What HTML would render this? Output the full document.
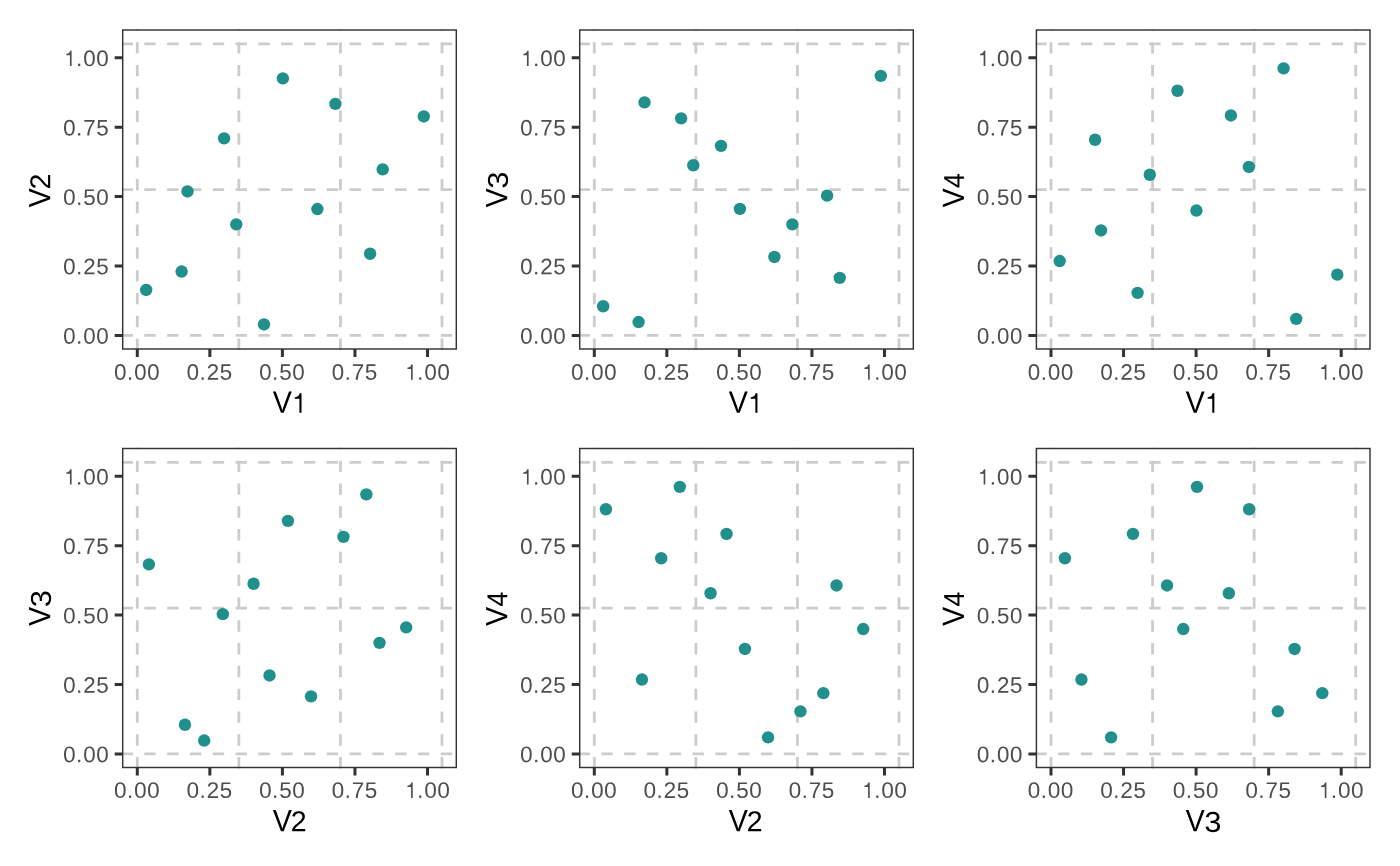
<!DOCTYPE html><html><head><meta charset="utf-8"><title>plot</title><style>html,body{margin:0;padding:0;background:#fff;overflow:hidden}svg{display:block}</style></head><body><svg width="1400" height="866" viewBox="0 0 1400 866"><defs><path id="g0" d="M1059 705Q1059 352 934.5 166.0Q810 -20 567 -20Q324 -20 202.0 165.0Q80 350 80 705Q80 1068 198.5 1249.0Q317 1430 573 1430Q822 1430 940.5 1247.0Q1059 1064 1059 705ZM876 705Q876 1010 805.5 1147.0Q735 1284 573 1284Q407 1284 334.5 1149.0Q262 1014 262 705Q262 405 335.5 266.0Q409 127 569 127Q728 127 802.0 269.0Q876 411 876 705Z"/><path id="g2" d="M103 0V127Q154 244 227.5 333.5Q301 423 382.0 495.5Q463 568 542.5 630.0Q622 692 686.0 754.0Q750 816 789.5 884.0Q829 952 829 1038Q829 1154 761.0 1218.0Q693 1282 572 1282Q457 1282 382.5 1219.5Q308 1157 295 1044L111 1061Q131 1230 254.5 1330.0Q378 1430 572 1430Q785 1430 899.5 1329.5Q1014 1229 1014 1044Q1014 962 976.5 881.0Q939 800 865.0 719.0Q791 638 582 468Q467 374 399.0 298.5Q331 223 301 153H1036V0Z"/><path id="g3" d="M1049 389Q1049 194 925.0 87.0Q801 -20 571 -20Q357 -20 229.5 76.5Q102 173 78 362L264 379Q300 129 571 129Q707 129 784.5 196.0Q862 263 862 395Q862 510 773.5 574.5Q685 639 518 639H416V795H514Q662 795 743.5 859.5Q825 924 825 1038Q825 1151 758.5 1216.5Q692 1282 561 1282Q442 1282 368.5 1221.0Q295 1160 283 1049L102 1063Q122 1236 245.5 1333.0Q369 1430 563 1430Q775 1430 892.5 1331.5Q1010 1233 1010 1057Q1010 922 934.5 837.5Q859 753 715 723V719Q873 702 961.0 613.0Q1049 524 1049 389Z"/><path id="g4" d="M881 319V0H711V319H47V459L692 1409H881V461H1079V319ZM711 1206Q709 1200 683.0 1153.0Q657 1106 644 1087L283 555L229 481L213 461H711Z"/><path id="g5" d="M1053 459Q1053 236 920.5 108.0Q788 -20 553 -20Q356 -20 235.0 66.0Q114 152 82 315L264 336Q321 127 557 127Q702 127 784.0 214.5Q866 302 866 455Q866 588 783.5 670.0Q701 752 561 752Q488 752 425.0 729.0Q362 706 299 651H123L170 1409H971V1256H334L307 809Q424 899 598 899Q806 899 929.5 777.0Q1053 655 1053 459Z"/><path id="g7" d="M1036 1263Q820 933 731.0 746.0Q642 559 597.5 377.0Q553 195 553 0H365Q365 270 479.5 568.5Q594 867 862 1256H105V1409H1036Z"/><path id="gd" d="M187 0V219H382V0Z"/><path id="gV" d="M782 0H584L9 1409H210L600 417L684 168L768 417L1156 1409H1357Z"/><path id="g1" d="M785 0L785 1395L655 1395C630 1290 560 1115 305 1110L305 990L635 990L635 0Z"/></defs><rect width="1400" height="866" fill="#fff"/><g stroke="#CCCCCC" stroke-width="2.8" stroke-dasharray="11.4 11.4" fill="none"><path d="M137.3 349.974V29.346M238.87 349.974V29.346M340.44 349.974V29.346M442.01 349.974V29.346"/><path d="M122.065 335.4H457.245M122.065 189.66H457.245M122.065 43.92H457.245" stroke-dashoffset="0.5"/></g><g fill="#21908C"><circle cx="146.2" cy="289.95" r="6.2"/><circle cx="181.6" cy="271.55" r="6.2"/><circle cx="187.5" cy="191.45" r="6.2"/><circle cx="224.1" cy="138.35" r="6.2"/><circle cx="236.3" cy="224.35" r="6.2"/><circle cx="264" cy="324.45" r="6.2"/><circle cx="282.9" cy="78.35" r="6.2"/><circle cx="317.4" cy="209.05" r="6.2"/><circle cx="335.4" cy="103.85" r="6.2"/><circle cx="370.1" cy="253.75" r="6.2"/><circle cx="382.7" cy="169.35" r="6.2"/><circle cx="423.8" cy="116.45" r="6.2"/></g><rect x="122.7" y="30" width="333.6" height="319" fill="none" stroke="#333333" stroke-width="1.45"/><path d="M137.3 349V357M114.7 335.4H122.7M209.85 349V357M114.7 266H122.7M282.4 349V357M114.7 196.6H122.7M354.95 349V357M114.7 127.2H122.7M427.5 349V357M114.7 57.8H122.7" stroke="#333333" stroke-width="3.0" fill="none"/><g fill="#4D4D4D"><use href="#g0" transform="matrix(0.011 0 0 -0.011 114.019 379.8)"/><use href="#gd" transform="matrix(0.011 0 0 -0.011 126.95 379.8)"/><use href="#g0" transform="matrix(0.011 0 0 -0.011 134.119 379.8)"/><use href="#g0" transform="matrix(0.011 0 0 -0.011 147.119 379.8)"/><use href="#g0" transform="matrix(0.011 0 0 -0.011 63.114 343.7)"/><use href="#gd" transform="matrix(0.011 0 0 -0.011 76.046 343.7)"/><use href="#g0" transform="matrix(0.011 0 0 -0.011 83.214 343.7)"/><use href="#g0" transform="matrix(0.011 0 0 -0.011 96.214 343.7)"/><use href="#g0" transform="matrix(0.011 0 0 -0.011 186.569 379.8)"/><use href="#gd" transform="matrix(0.011 0 0 -0.011 199.5 379.8)"/><use href="#g2" transform="matrix(0.011 0 0 -0.011 206.654 379.8)"/><use href="#g5" transform="matrix(0.011 0 0 -0.011 219.668 379.8)"/><use href="#g0" transform="matrix(0.011 0 0 -0.011 63.114 274.3)"/><use href="#gd" transform="matrix(0.011 0 0 -0.011 76.046 274.3)"/><use href="#g2" transform="matrix(0.011 0 0 -0.011 83.199 274.3)"/><use href="#g5" transform="matrix(0.011 0 0 -0.011 96.213 274.3)"/><use href="#g0" transform="matrix(0.011 0 0 -0.011 259.119 379.8)"/><use href="#gd" transform="matrix(0.011 0 0 -0.011 272.05 379.8)"/><use href="#g5" transform="matrix(0.011 0 0 -0.011 279.218 379.8)"/><use href="#g0" transform="matrix(0.011 0 0 -0.011 292.219 379.8)"/><use href="#g0" transform="matrix(0.011 0 0 -0.011 63.114 204.9)"/><use href="#gd" transform="matrix(0.011 0 0 -0.011 76.046 204.9)"/><use href="#g5" transform="matrix(0.011 0 0 -0.011 83.213 204.9)"/><use href="#g0" transform="matrix(0.011 0 0 -0.011 96.214 204.9)"/><use href="#g0" transform="matrix(0.011 0 0 -0.011 331.669 379.8)"/><use href="#gd" transform="matrix(0.011 0 0 -0.011 344.6 379.8)"/><use href="#g7" transform="matrix(0.011 0 0 -0.011 351.753 379.8)"/><use href="#g5" transform="matrix(0.011 0 0 -0.011 364.768 379.8)"/><use href="#g0" transform="matrix(0.011 0 0 -0.011 63.114 135.5)"/><use href="#gd" transform="matrix(0.011 0 0 -0.011 76.046 135.5)"/><use href="#g7" transform="matrix(0.011 0 0 -0.011 83.198 135.5)"/><use href="#g5" transform="matrix(0.011 0 0 -0.011 96.213 135.5)"/><use href="#g1" transform="matrix(0.011 0 0 -0.011 404.075 379.8)"/><use href="#gd" transform="matrix(0.011 0 0 -0.011 417.15 379.8)"/><use href="#g0" transform="matrix(0.011 0 0 -0.011 424.319 379.8)"/><use href="#g0" transform="matrix(0.011 0 0 -0.011 437.319 379.8)"/><use href="#g1" transform="matrix(0.011 0 0 -0.011 62.97 66.1)"/><use href="#gd" transform="matrix(0.011 0 0 -0.011 76.046 66.1)"/><use href="#g0" transform="matrix(0.011 0 0 -0.011 83.214 66.1)"/><use href="#g0" transform="matrix(0.011 0 0 -0.011 96.214 66.1)"/></g><g fill="#000"><use href="#gV" transform="matrix(0.014 0 0 -0.015 272.778 412.7)"/><use href="#g1" transform="matrix(0.014 0 0 -0.014 290.516 412.7)"/></g><g fill="#000" transform="translate(50.2 189.5) rotate(-90)"><use href="#gV" transform="matrix(0.014 0 0 -0.015 -17.922 0)"/><use href="#g2" transform="matrix(0.014 0 0 -0.014 0.01 0)"/></g><g stroke="#CCCCCC" stroke-width="2.8" stroke-dasharray="11.4 11.4" fill="none"><path d="M594.3 349.974V29.346M695.87 349.974V29.346M797.44 349.974V29.346M899.01 349.974V29.346"/><path d="M579.064 335.4H914.245M579.064 189.66H914.245M579.064 43.92H914.245" stroke-dashoffset="0.5"/></g><g fill="#21908C"><circle cx="603.2" cy="306.25" r="6.2"/><circle cx="638.6" cy="322.05" r="6.2"/><circle cx="644.5" cy="102.35" r="6.2"/><circle cx="681.1" cy="118.35" r="6.2"/><circle cx="693.3" cy="165.25" r="6.2"/><circle cx="721" cy="145.85" r="6.2"/><circle cx="739.9" cy="208.85" r="6.2"/><circle cx="774.4" cy="256.95" r="6.2"/><circle cx="792.4" cy="224.35" r="6.2"/><circle cx="827.1" cy="195.65" r="6.2"/><circle cx="839.7" cy="277.85" r="6.2"/><circle cx="880.8" cy="75.85" r="6.2"/></g><rect x="579.7" y="30" width="333.6" height="319" fill="none" stroke="#333333" stroke-width="1.45"/><path d="M594.3 349V357M571.7 335.4H579.7M666.85 349V357M571.7 266H579.7M739.4 349V357M571.7 196.6H579.7M811.95 349V357M571.7 127.2H579.7M884.5 349V357M571.7 57.8H579.7" stroke="#333333" stroke-width="3.0" fill="none"/><g fill="#4D4D4D"><use href="#g0" transform="matrix(0.011 0 0 -0.011 571.019 379.8)"/><use href="#gd" transform="matrix(0.011 0 0 -0.011 583.95 379.8)"/><use href="#g0" transform="matrix(0.011 0 0 -0.011 591.119 379.8)"/><use href="#g0" transform="matrix(0.011 0 0 -0.011 604.119 379.8)"/><use href="#g0" transform="matrix(0.011 0 0 -0.011 520.114 343.7)"/><use href="#gd" transform="matrix(0.011 0 0 -0.011 533.046 343.7)"/><use href="#g0" transform="matrix(0.011 0 0 -0.011 540.214 343.7)"/><use href="#g0" transform="matrix(0.011 0 0 -0.011 553.214 343.7)"/><use href="#g0" transform="matrix(0.011 0 0 -0.011 643.569 379.8)"/><use href="#gd" transform="matrix(0.011 0 0 -0.011 656.5 379.8)"/><use href="#g2" transform="matrix(0.011 0 0 -0.011 663.654 379.8)"/><use href="#g5" transform="matrix(0.011 0 0 -0.011 676.668 379.8)"/><use href="#g0" transform="matrix(0.011 0 0 -0.011 520.114 274.3)"/><use href="#gd" transform="matrix(0.011 0 0 -0.011 533.046 274.3)"/><use href="#g2" transform="matrix(0.011 0 0 -0.011 540.199 274.3)"/><use href="#g5" transform="matrix(0.011 0 0 -0.011 553.213 274.3)"/><use href="#g0" transform="matrix(0.011 0 0 -0.011 716.119 379.8)"/><use href="#gd" transform="matrix(0.011 0 0 -0.011 729.05 379.8)"/><use href="#g5" transform="matrix(0.011 0 0 -0.011 736.218 379.8)"/><use href="#g0" transform="matrix(0.011 0 0 -0.011 749.219 379.8)"/><use href="#g0" transform="matrix(0.011 0 0 -0.011 520.114 204.9)"/><use href="#gd" transform="matrix(0.011 0 0 -0.011 533.046 204.9)"/><use href="#g5" transform="matrix(0.011 0 0 -0.011 540.213 204.9)"/><use href="#g0" transform="matrix(0.011 0 0 -0.011 553.214 204.9)"/><use href="#g0" transform="matrix(0.011 0 0 -0.011 788.669 379.8)"/><use href="#gd" transform="matrix(0.011 0 0 -0.011 801.6 379.8)"/><use href="#g7" transform="matrix(0.011 0 0 -0.011 808.753 379.8)"/><use href="#g5" transform="matrix(0.011 0 0 -0.011 821.768 379.8)"/><use href="#g0" transform="matrix(0.011 0 0 -0.011 520.114 135.5)"/><use href="#gd" transform="matrix(0.011 0 0 -0.011 533.046 135.5)"/><use href="#g7" transform="matrix(0.011 0 0 -0.011 540.198 135.5)"/><use href="#g5" transform="matrix(0.011 0 0 -0.011 553.213 135.5)"/><use href="#g1" transform="matrix(0.011 0 0 -0.011 861.075 379.8)"/><use href="#gd" transform="matrix(0.011 0 0 -0.011 874.15 379.8)"/><use href="#g0" transform="matrix(0.011 0 0 -0.011 881.319 379.8)"/><use href="#g0" transform="matrix(0.011 0 0 -0.011 894.319 379.8)"/><use href="#g1" transform="matrix(0.011 0 0 -0.011 519.97 66.1)"/><use href="#gd" transform="matrix(0.011 0 0 -0.011 533.046 66.1)"/><use href="#g0" transform="matrix(0.011 0 0 -0.011 540.214 66.1)"/><use href="#g0" transform="matrix(0.011 0 0 -0.011 553.214 66.1)"/></g><g fill="#000"><use href="#gV" transform="matrix(0.014 0 0 -0.015 728.728 412.7)"/><use href="#g1" transform="matrix(0.014 0 0 -0.014 746.466 412.7)"/></g><g fill="#000" transform="translate(507.2 189.5) rotate(-90)"><use href="#gV" transform="matrix(0.014 0 0 -0.015 -17.922 0)"/><use href="#g3" transform="matrix(0.015 0 0 -0.014 0.835 0.663)"/></g><g stroke="#CCCCCC" stroke-width="2.8" stroke-dasharray="11.4 11.4" fill="none"><path d="M1051 349.974V29.346M1152.57 349.974V29.346M1254.14 349.974V29.346M1355.71 349.974V29.346"/><path d="M1035.764 335.4H1370.946M1035.764 189.66H1370.946M1035.764 43.92H1370.946" stroke-dashoffset="0.5"/></g><g fill="#21908C"><circle cx="1059.7" cy="261.05" r="6.2"/><circle cx="1095.1" cy="139.75" r="6.2"/><circle cx="1101" cy="230.45" r="6.2"/><circle cx="1137.6" cy="292.85" r="6.2"/><circle cx="1149.8" cy="174.75" r="6.2"/><circle cx="1177.5" cy="90.75" r="6.2"/><circle cx="1196.4" cy="210.55" r="6.2"/><circle cx="1230.9" cy="115.45" r="6.2"/><circle cx="1248.9" cy="166.95" r="6.2"/><circle cx="1283.6" cy="68.35" r="6.2"/><circle cx="1296.2" cy="318.85" r="6.2"/><circle cx="1337.3" cy="274.65" r="6.2"/></g><rect x="1036.4" y="30" width="333.6" height="319" fill="none" stroke="#333333" stroke-width="1.45"/><path d="M1051 349V357M1028.4 335.4H1036.4M1123.55 349V357M1028.4 266H1036.4M1196.1 349V357M1028.4 196.6H1036.4M1268.65 349V357M1028.4 127.2H1036.4M1341.2 349V357M1028.4 57.8H1036.4" stroke="#333333" stroke-width="3.0" fill="none"/><g fill="#4D4D4D"><use href="#g0" transform="matrix(0.011 0 0 -0.011 1027.719 379.8)"/><use href="#gd" transform="matrix(0.011 0 0 -0.011 1040.65 379.8)"/><use href="#g0" transform="matrix(0.011 0 0 -0.011 1047.819 379.8)"/><use href="#g0" transform="matrix(0.011 0 0 -0.011 1060.819 379.8)"/><use href="#g0" transform="matrix(0.011 0 0 -0.011 976.814 343.7)"/><use href="#gd" transform="matrix(0.011 0 0 -0.011 989.746 343.7)"/><use href="#g0" transform="matrix(0.011 0 0 -0.011 996.914 343.7)"/><use href="#g0" transform="matrix(0.011 0 0 -0.011 1009.914 343.7)"/><use href="#g0" transform="matrix(0.011 0 0 -0.011 1100.269 379.8)"/><use href="#gd" transform="matrix(0.011 0 0 -0.011 1113.2 379.8)"/><use href="#g2" transform="matrix(0.011 0 0 -0.011 1120.354 379.8)"/><use href="#g5" transform="matrix(0.011 0 0 -0.011 1133.368 379.8)"/><use href="#g0" transform="matrix(0.011 0 0 -0.011 976.814 274.3)"/><use href="#gd" transform="matrix(0.011 0 0 -0.011 989.746 274.3)"/><use href="#g2" transform="matrix(0.011 0 0 -0.011 996.899 274.3)"/><use href="#g5" transform="matrix(0.011 0 0 -0.011 1009.913 274.3)"/><use href="#g0" transform="matrix(0.011 0 0 -0.011 1172.819 379.8)"/><use href="#gd" transform="matrix(0.011 0 0 -0.011 1185.75 379.8)"/><use href="#g5" transform="matrix(0.011 0 0 -0.011 1192.918 379.8)"/><use href="#g0" transform="matrix(0.011 0 0 -0.011 1205.919 379.8)"/><use href="#g0" transform="matrix(0.011 0 0 -0.011 976.814 204.9)"/><use href="#gd" transform="matrix(0.011 0 0 -0.011 989.746 204.9)"/><use href="#g5" transform="matrix(0.011 0 0 -0.011 996.913 204.9)"/><use href="#g0" transform="matrix(0.011 0 0 -0.011 1009.914 204.9)"/><use href="#g0" transform="matrix(0.011 0 0 -0.011 1245.369 379.8)"/><use href="#gd" transform="matrix(0.011 0 0 -0.011 1258.3 379.8)"/><use href="#g7" transform="matrix(0.011 0 0 -0.011 1265.453 379.8)"/><use href="#g5" transform="matrix(0.011 0 0 -0.011 1278.468 379.8)"/><use href="#g0" transform="matrix(0.011 0 0 -0.011 976.814 135.5)"/><use href="#gd" transform="matrix(0.011 0 0 -0.011 989.746 135.5)"/><use href="#g7" transform="matrix(0.011 0 0 -0.011 996.898 135.5)"/><use href="#g5" transform="matrix(0.011 0 0 -0.011 1009.913 135.5)"/><use href="#g1" transform="matrix(0.011 0 0 -0.011 1317.775 379.8)"/><use href="#gd" transform="matrix(0.011 0 0 -0.011 1330.85 379.8)"/><use href="#g0" transform="matrix(0.011 0 0 -0.011 1338.019 379.8)"/><use href="#g0" transform="matrix(0.011 0 0 -0.011 1351.019 379.8)"/><use href="#g1" transform="matrix(0.011 0 0 -0.011 976.67 66.1)"/><use href="#gd" transform="matrix(0.011 0 0 -0.011 989.746 66.1)"/><use href="#g0" transform="matrix(0.011 0 0 -0.011 996.914 66.1)"/><use href="#g0" transform="matrix(0.011 0 0 -0.011 1009.914 66.1)"/></g><g fill="#000"><use href="#gV" transform="matrix(0.014 0 0 -0.015 1185.628 412.7)"/><use href="#g1" transform="matrix(0.014 0 0 -0.014 1203.366 412.7)"/></g><g fill="#000" transform="translate(963.9 189.5) rotate(-90)"><use href="#gV" transform="matrix(0.014 0 0 -0.015 -17.922 0)"/><use href="#g4" transform="matrix(0.013 0 0 -0.014 1.481 0)"/></g><g stroke="#CCCCCC" stroke-width="2.8" stroke-dasharray="11.4 11.4" fill="none"><path d="M137.3 768.474V447.846M238.87 768.474V447.846M340.44 768.474V447.846M442.01 768.474V447.846"/><path d="M122.065 753.9H457.245M122.065 608.16H457.245M122.065 462.42H457.245" stroke-dashoffset="0.5"/></g><g fill="#21908C"><circle cx="184.974" cy="724.75" r="6.2"/><circle cx="204.209" cy="740.55" r="6.2"/><circle cx="287.945" cy="520.85" r="6.2"/><circle cx="343.455" cy="536.85" r="6.2"/><circle cx="253.552" cy="583.75" r="6.2"/><circle cx="148.908" cy="564.35" r="6.2"/><circle cx="406.179" cy="627.35" r="6.2"/><circle cx="269.546" cy="675.45" r="6.2"/><circle cx="379.521" cy="642.85" r="6.2"/><circle cx="222.817" cy="614.15" r="6.2"/><circle cx="311.048" cy="696.35" r="6.2"/><circle cx="366.349" cy="494.35" r="6.2"/></g><rect x="122.7" y="448.5" width="333.6" height="319" fill="none" stroke="#333333" stroke-width="1.45"/><path d="M137.3 767.5V775.5M114.7 753.9H122.7M209.85 767.5V775.5M114.7 684.5H122.7M282.4 767.5V775.5M114.7 615.1H122.7M354.95 767.5V775.5M114.7 545.7H122.7M427.5 767.5V775.5M114.7 476.3H122.7" stroke="#333333" stroke-width="3.0" fill="none"/><g fill="#4D4D4D"><use href="#g0" transform="matrix(0.011 0 0 -0.011 114.019 797.9)"/><use href="#gd" transform="matrix(0.011 0 0 -0.011 126.95 797.9)"/><use href="#g0" transform="matrix(0.011 0 0 -0.011 134.119 797.9)"/><use href="#g0" transform="matrix(0.011 0 0 -0.011 147.119 797.9)"/><use href="#g0" transform="matrix(0.011 0 0 -0.011 63.114 762.2)"/><use href="#gd" transform="matrix(0.011 0 0 -0.011 76.046 762.2)"/><use href="#g0" transform="matrix(0.011 0 0 -0.011 83.214 762.2)"/><use href="#g0" transform="matrix(0.011 0 0 -0.011 96.214 762.2)"/><use href="#g0" transform="matrix(0.011 0 0 -0.011 186.569 797.9)"/><use href="#gd" transform="matrix(0.011 0 0 -0.011 199.5 797.9)"/><use href="#g2" transform="matrix(0.011 0 0 -0.011 206.654 797.9)"/><use href="#g5" transform="matrix(0.011 0 0 -0.011 219.668 797.9)"/><use href="#g0" transform="matrix(0.011 0 0 -0.011 63.114 692.8)"/><use href="#gd" transform="matrix(0.011 0 0 -0.011 76.046 692.8)"/><use href="#g2" transform="matrix(0.011 0 0 -0.011 83.199 692.8)"/><use href="#g5" transform="matrix(0.011 0 0 -0.011 96.213 692.8)"/><use href="#g0" transform="matrix(0.011 0 0 -0.011 259.119 797.9)"/><use href="#gd" transform="matrix(0.011 0 0 -0.011 272.05 797.9)"/><use href="#g5" transform="matrix(0.011 0 0 -0.011 279.218 797.9)"/><use href="#g0" transform="matrix(0.011 0 0 -0.011 292.219 797.9)"/><use href="#g0" transform="matrix(0.011 0 0 -0.011 63.114 623.4)"/><use href="#gd" transform="matrix(0.011 0 0 -0.011 76.046 623.4)"/><use href="#g5" transform="matrix(0.011 0 0 -0.011 83.213 623.4)"/><use href="#g0" transform="matrix(0.011 0 0 -0.011 96.214 623.4)"/><use href="#g0" transform="matrix(0.011 0 0 -0.011 331.669 797.9)"/><use href="#gd" transform="matrix(0.011 0 0 -0.011 344.6 797.9)"/><use href="#g7" transform="matrix(0.011 0 0 -0.011 351.753 797.9)"/><use href="#g5" transform="matrix(0.011 0 0 -0.011 364.768 797.9)"/><use href="#g0" transform="matrix(0.011 0 0 -0.011 63.114 554)"/><use href="#gd" transform="matrix(0.011 0 0 -0.011 76.046 554)"/><use href="#g7" transform="matrix(0.011 0 0 -0.011 83.198 554)"/><use href="#g5" transform="matrix(0.011 0 0 -0.011 96.213 554)"/><use href="#g1" transform="matrix(0.011 0 0 -0.011 404.075 797.9)"/><use href="#gd" transform="matrix(0.011 0 0 -0.011 417.15 797.9)"/><use href="#g0" transform="matrix(0.011 0 0 -0.011 424.319 797.9)"/><use href="#g0" transform="matrix(0.011 0 0 -0.011 437.319 797.9)"/><use href="#g1" transform="matrix(0.011 0 0 -0.011 62.97 484.6)"/><use href="#gd" transform="matrix(0.011 0 0 -0.011 76.046 484.6)"/><use href="#g0" transform="matrix(0.011 0 0 -0.011 83.214 484.6)"/><use href="#g0" transform="matrix(0.011 0 0 -0.011 96.214 484.6)"/></g><g fill="#000"><use href="#gV" transform="matrix(0.014 0 0 -0.015 272.778 831.2)"/><use href="#g2" transform="matrix(0.014 0 0 -0.014 290.71 831.2)"/></g><g fill="#000" transform="translate(50.2 608) rotate(-90)"><use href="#gV" transform="matrix(0.014 0 0 -0.015 -17.922 0)"/><use href="#g3" transform="matrix(0.015 0 0 -0.014 0.835 0.663)"/></g><g stroke="#CCCCCC" stroke-width="2.8" stroke-dasharray="11.4 11.4" fill="none"><path d="M594.3 768.474V447.846M695.87 768.474V447.846M797.44 768.474V447.846M899.01 768.474V447.846"/><path d="M579.064 753.9H914.245M579.064 608.16H914.245M579.064 462.42H914.245" stroke-dashoffset="0.5"/></g><g fill="#21908C"><circle cx="641.974" cy="679.55" r="6.2"/><circle cx="661.209" cy="558.25" r="6.2"/><circle cx="744.945" cy="648.95" r="6.2"/><circle cx="800.455" cy="711.35" r="6.2"/><circle cx="710.552" cy="593.25" r="6.2"/><circle cx="605.908" cy="509.25" r="6.2"/><circle cx="863.179" cy="629.05" r="6.2"/><circle cx="726.546" cy="533.95" r="6.2"/><circle cx="836.521" cy="585.45" r="6.2"/><circle cx="679.817" cy="486.85" r="6.2"/><circle cx="768.048" cy="737.35" r="6.2"/><circle cx="823.349" cy="693.15" r="6.2"/></g><rect x="579.7" y="448.5" width="333.6" height="319" fill="none" stroke="#333333" stroke-width="1.45"/><path d="M594.3 767.5V775.5M571.7 753.9H579.7M666.85 767.5V775.5M571.7 684.5H579.7M739.4 767.5V775.5M571.7 615.1H579.7M811.95 767.5V775.5M571.7 545.7H579.7M884.5 767.5V775.5M571.7 476.3H579.7" stroke="#333333" stroke-width="3.0" fill="none"/><g fill="#4D4D4D"><use href="#g0" transform="matrix(0.011 0 0 -0.011 571.019 797.9)"/><use href="#gd" transform="matrix(0.011 0 0 -0.011 583.95 797.9)"/><use href="#g0" transform="matrix(0.011 0 0 -0.011 591.119 797.9)"/><use href="#g0" transform="matrix(0.011 0 0 -0.011 604.119 797.9)"/><use href="#g0" transform="matrix(0.011 0 0 -0.011 520.114 762.2)"/><use href="#gd" transform="matrix(0.011 0 0 -0.011 533.046 762.2)"/><use href="#g0" transform="matrix(0.011 0 0 -0.011 540.214 762.2)"/><use href="#g0" transform="matrix(0.011 0 0 -0.011 553.214 762.2)"/><use href="#g0" transform="matrix(0.011 0 0 -0.011 643.569 797.9)"/><use href="#gd" transform="matrix(0.011 0 0 -0.011 656.5 797.9)"/><use href="#g2" transform="matrix(0.011 0 0 -0.011 663.654 797.9)"/><use href="#g5" transform="matrix(0.011 0 0 -0.011 676.668 797.9)"/><use href="#g0" transform="matrix(0.011 0 0 -0.011 520.114 692.8)"/><use href="#gd" transform="matrix(0.011 0 0 -0.011 533.046 692.8)"/><use href="#g2" transform="matrix(0.011 0 0 -0.011 540.199 692.8)"/><use href="#g5" transform="matrix(0.011 0 0 -0.011 553.213 692.8)"/><use href="#g0" transform="matrix(0.011 0 0 -0.011 716.119 797.9)"/><use href="#gd" transform="matrix(0.011 0 0 -0.011 729.05 797.9)"/><use href="#g5" transform="matrix(0.011 0 0 -0.011 736.218 797.9)"/><use href="#g0" transform="matrix(0.011 0 0 -0.011 749.219 797.9)"/><use href="#g0" transform="matrix(0.011 0 0 -0.011 520.114 623.4)"/><use href="#gd" transform="matrix(0.011 0 0 -0.011 533.046 623.4)"/><use href="#g5" transform="matrix(0.011 0 0 -0.011 540.213 623.4)"/><use href="#g0" transform="matrix(0.011 0 0 -0.011 553.214 623.4)"/><use href="#g0" transform="matrix(0.011 0 0 -0.011 788.669 797.9)"/><use href="#gd" transform="matrix(0.011 0 0 -0.011 801.6 797.9)"/><use href="#g7" transform="matrix(0.011 0 0 -0.011 808.753 797.9)"/><use href="#g5" transform="matrix(0.011 0 0 -0.011 821.768 797.9)"/><use href="#g0" transform="matrix(0.011 0 0 -0.011 520.114 554)"/><use href="#gd" transform="matrix(0.011 0 0 -0.011 533.046 554)"/><use href="#g7" transform="matrix(0.011 0 0 -0.011 540.198 554)"/><use href="#g5" transform="matrix(0.011 0 0 -0.011 553.213 554)"/><use href="#g1" transform="matrix(0.011 0 0 -0.011 861.075 797.9)"/><use href="#gd" transform="matrix(0.011 0 0 -0.011 874.15 797.9)"/><use href="#g0" transform="matrix(0.011 0 0 -0.011 881.319 797.9)"/><use href="#g0" transform="matrix(0.011 0 0 -0.011 894.319 797.9)"/><use href="#g1" transform="matrix(0.011 0 0 -0.011 519.97 484.6)"/><use href="#gd" transform="matrix(0.011 0 0 -0.011 533.046 484.6)"/><use href="#g0" transform="matrix(0.011 0 0 -0.011 540.214 484.6)"/><use href="#g0" transform="matrix(0.011 0 0 -0.011 553.214 484.6)"/></g><g fill="#000"><use href="#gV" transform="matrix(0.014 0 0 -0.015 728.728 831.2)"/><use href="#g2" transform="matrix(0.014 0 0 -0.014 746.66 831.2)"/></g><g fill="#000" transform="translate(507.2 608) rotate(-90)"><use href="#gV" transform="matrix(0.014 0 0 -0.015 -17.922 0)"/><use href="#g4" transform="matrix(0.013 0 0 -0.014 1.481 0)"/></g><g stroke="#CCCCCC" stroke-width="2.8" stroke-dasharray="11.4 11.4" fill="none"><path d="M1051 768.474V447.846M1152.57 768.474V447.846M1254.14 768.474V447.846M1355.71 768.474V447.846"/><path d="M1035.764 753.9H1370.946M1035.764 608.16H1370.946M1035.764 462.42H1370.946" stroke-dashoffset="0.5"/></g><g fill="#21908C"><circle cx="1081.434" cy="679.55" r="6.2"/><circle cx="1064.917" cy="558.25" r="6.2"/><circle cx="1294.589" cy="648.95" r="6.2"/><circle cx="1277.863" cy="711.35" r="6.2"/><circle cx="1228.834" cy="593.25" r="6.2"/><circle cx="1249.115" cy="509.25" r="6.2"/><circle cx="1183.255" cy="629.05" r="6.2"/><circle cx="1132.972" cy="533.95" r="6.2"/><circle cx="1167.052" cy="585.45" r="6.2"/><circle cx="1197.054" cy="486.85" r="6.2"/><circle cx="1111.123" cy="737.35" r="6.2"/><circle cx="1322.292" cy="693.15" r="6.2"/></g><rect x="1036.4" y="448.5" width="333.6" height="319" fill="none" stroke="#333333" stroke-width="1.45"/><path d="M1051 767.5V775.5M1028.4 753.9H1036.4M1123.55 767.5V775.5M1028.4 684.5H1036.4M1196.1 767.5V775.5M1028.4 615.1H1036.4M1268.65 767.5V775.5M1028.4 545.7H1036.4M1341.2 767.5V775.5M1028.4 476.3H1036.4" stroke="#333333" stroke-width="3.0" fill="none"/><g fill="#4D4D4D"><use href="#g0" transform="matrix(0.011 0 0 -0.011 1027.719 797.9)"/><use href="#gd" transform="matrix(0.011 0 0 -0.011 1040.65 797.9)"/><use href="#g0" transform="matrix(0.011 0 0 -0.011 1047.819 797.9)"/><use href="#g0" transform="matrix(0.011 0 0 -0.011 1060.819 797.9)"/><use href="#g0" transform="matrix(0.011 0 0 -0.011 976.814 762.2)"/><use href="#gd" transform="matrix(0.011 0 0 -0.011 989.746 762.2)"/><use href="#g0" transform="matrix(0.011 0 0 -0.011 996.914 762.2)"/><use href="#g0" transform="matrix(0.011 0 0 -0.011 1009.914 762.2)"/><use href="#g0" transform="matrix(0.011 0 0 -0.011 1100.269 797.9)"/><use href="#gd" transform="matrix(0.011 0 0 -0.011 1113.2 797.9)"/><use href="#g2" transform="matrix(0.011 0 0 -0.011 1120.354 797.9)"/><use href="#g5" transform="matrix(0.011 0 0 -0.011 1133.368 797.9)"/><use href="#g0" transform="matrix(0.011 0 0 -0.011 976.814 692.8)"/><use href="#gd" transform="matrix(0.011 0 0 -0.011 989.746 692.8)"/><use href="#g2" transform="matrix(0.011 0 0 -0.011 996.899 692.8)"/><use href="#g5" transform="matrix(0.011 0 0 -0.011 1009.913 692.8)"/><use href="#g0" transform="matrix(0.011 0 0 -0.011 1172.819 797.9)"/><use href="#gd" transform="matrix(0.011 0 0 -0.011 1185.75 797.9)"/><use href="#g5" transform="matrix(0.011 0 0 -0.011 1192.918 797.9)"/><use href="#g0" transform="matrix(0.011 0 0 -0.011 1205.919 797.9)"/><use href="#g0" transform="matrix(0.011 0 0 -0.011 976.814 623.4)"/><use href="#gd" transform="matrix(0.011 0 0 -0.011 989.746 623.4)"/><use href="#g5" transform="matrix(0.011 0 0 -0.011 996.913 623.4)"/><use href="#g0" transform="matrix(0.011 0 0 -0.011 1009.914 623.4)"/><use href="#g0" transform="matrix(0.011 0 0 -0.011 1245.369 797.9)"/><use href="#gd" transform="matrix(0.011 0 0 -0.011 1258.3 797.9)"/><use href="#g7" transform="matrix(0.011 0 0 -0.011 1265.453 797.9)"/><use href="#g5" transform="matrix(0.011 0 0 -0.011 1278.468 797.9)"/><use href="#g0" transform="matrix(0.011 0 0 -0.011 976.814 554)"/><use href="#gd" transform="matrix(0.011 0 0 -0.011 989.746 554)"/><use href="#g7" transform="matrix(0.011 0 0 -0.011 996.898 554)"/><use href="#g5" transform="matrix(0.011 0 0 -0.011 1009.913 554)"/><use href="#g1" transform="matrix(0.011 0 0 -0.011 1317.775 797.9)"/><use href="#gd" transform="matrix(0.011 0 0 -0.011 1330.85 797.9)"/><use href="#g0" transform="matrix(0.011 0 0 -0.011 1338.019 797.9)"/><use href="#g0" transform="matrix(0.011 0 0 -0.011 1351.019 797.9)"/><use href="#g1" transform="matrix(0.011 0 0 -0.011 976.67 484.6)"/><use href="#gd" transform="matrix(0.011 0 0 -0.011 989.746 484.6)"/><use href="#g0" transform="matrix(0.011 0 0 -0.011 996.914 484.6)"/><use href="#g0" transform="matrix(0.011 0 0 -0.011 1009.914 484.6)"/></g><g fill="#000"><use href="#gV" transform="matrix(0.014 0 0 -0.015 1185.628 831.2)"/><use href="#g3" transform="matrix(0.015 0 0 -0.014 1204.385 831.863)"/></g><g fill="#000" transform="translate(963.9 608) rotate(-90)"><use href="#gV" transform="matrix(0.014 0 0 -0.015 -17.922 0)"/><use href="#g4" transform="matrix(0.013 0 0 -0.014 1.481 0)"/></g></svg></body></html>
